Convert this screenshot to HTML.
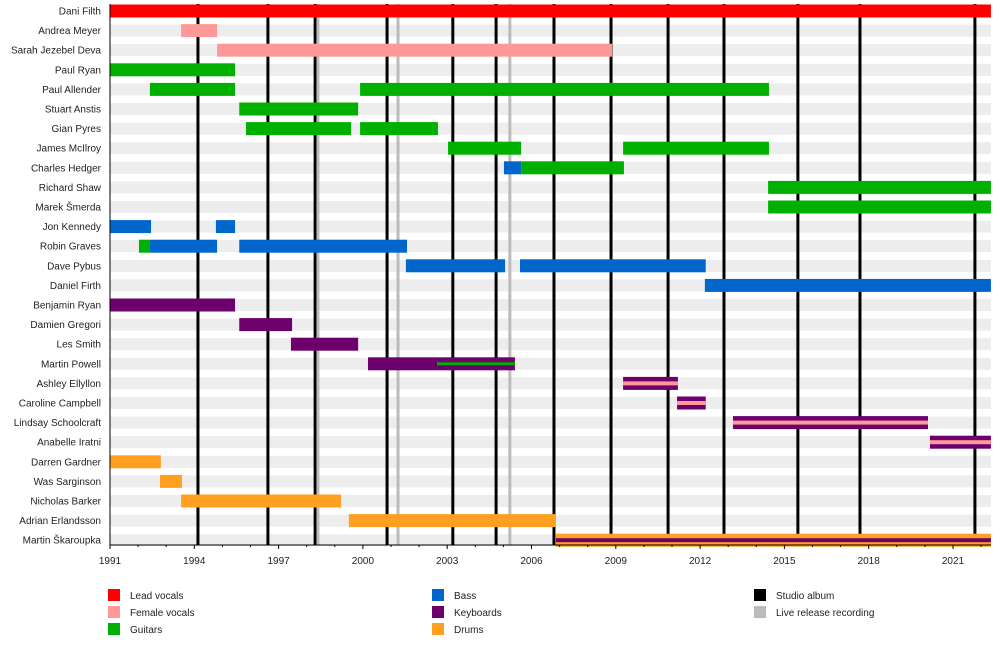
<!DOCTYPE html>
<html><head><meta charset="utf-8"><style>
body{margin:0;background:#fff;font-family:"Liberation Sans",sans-serif;}
svg text{font-family:"Liberation Sans",sans-serif;font-size:10px;fill:#222;}
</style></head><body>
<svg id="chart" width="1000" height="645" viewBox="0 0 1000 645" xmlns="http://www.w3.org/2000/svg">
<g id="stripes"></g><g id="lines"></g><g id="bars"></g><g id="labels"></g><g id="axis"></g><g id="legend"></g>
</svg>
<script>
const END = 2022.35;
const members = ["Dani Filth","Andrea Meyer","Sarah Jezebel Deva","Paul Ryan","Paul Allender","Stuart Anstis","Gian Pyres","James McIlroy","Charles Hedger","Richard Shaw","Marek Šmerda","Jon Kennedy","Robin Graves","Dave Pybus","Daniel Firth","Benjamin Ryan","Damien Gregori","Les Smith","Martin Powell","Ashley Ellyllon","Caroline Campbell","Lindsay Schoolcraft","Anabelle Iratni","Darren Gardner","Was Sarginson","Nicholas Barker","Adrian Erlandsson","Martin Škaroupka"];
// [memberIndex, start, end, role, stripeRole]
const periods = [
[0,1991,END,"lead",null],
[1,1993.53,1994.81,"female",null],
[2,1994.81,2008.87,"female",null],
[3,1991,1995.45,"guitar",null],
[4,1992.42,1995.45,"guitar",null],[4,1999.9,2014.45,"guitar",null],
[5,1995.6,1999.83,"guitar",null],
[6,1995.84,1999.58,"guitar",null],[6,1999.9,2002.67,"guitar",null],
[7,2003.03,2005.63,"guitar",null],[7,2009.26,2014.45,"guitar",null],
[8,2005.02,2005.63,"bass",null],[8,2005.63,2009.29,"guitar",null],
[9,2014.42,END,"guitar",null],
[10,2014.42,END,"guitar",null],
[11,1991,1992.46,"bass",null],[11,1994.77,1995.45,"bass",null],
[12,1992.03,1992.42,"guitar",null],[12,1992.42,1994.81,"bass",null],[12,1995.6,2001.57,"bass",null],
[13,2001.53,2005.06,"bass",null],[13,2005.59,2012.2,"bass",null],
[14,2012.17,END,"bass",null],
[15,1991,1995.45,"keys",null],
[16,1995.6,1997.48,"keys",null],
[17,1997.44,1999.83,"keys",null],
[18,2000.18,2002.64,"keys",null],[18,2002.64,2005.41,"keys","guitar"],
[19,2009.26,2011.21,"keys","female"],
[20,2011.18,2012.2,"keys","female"],
[21,2013.17,2020.11,"keys","female"],
[22,2020.18,END,"keys","female"],
[23,1991,1992.81,"drums",null],
[24,1992.78,1993.56,"drums",null],
[25,1993.53,1999.22,"drums",null],
[26,1999.5,2006.87,"drums",null],
[27,2006.87,END,"drums","keys"]
];
const studioAlbums = [1994.13,1996.62,1998.3,2000.86,2003.2,2004.74,2006.8,2008.83,2010.86,2012.85,2015.48,2017.69,2021.78];
const liveReleases = [1998.4,2001.25,2005.23];
const tickLabels = [1991,1994,1997,2000,2003,2006,2009,2012,2015,2018,2021];
const colors = {lead:"#ff0000",female:"#ff9999",guitar:"#00b000",bass:"#0066cc",keys:"#6e006e",drums:"#ffa020"};

const NS="http://www.w3.org/2000/svg";
const X0=110,PX=28.1,X1=991,Y0=11,DY=19.6,BH=13,AXY=545;
const xs=y=>X0+(y-1991)*PX;
const yc=i=>Y0+i*DY;
function mk(tag,attrs,parent){const e=document.createElementNS(NS,tag);for(const k in attrs)e.setAttribute(k,attrs[k]);parent.appendChild(e);return e;}
const gS=document.getElementById('stripes'),gL=document.getElementById('lines'),gB=document.getElementById('bars'),gT=document.getElementById('labels'),gA=document.getElementById('axis'),gG=document.getElementById('legend');

members.forEach((m,i)=>{
  const r=mk('rect',{x:X0,y:yc(i)-6,width:X1-X0,height:12,fill:'#ededed'},gS);
  
  
  const t=mk('text',{x:101,y:yc(i)+3.5,'text-anchor':'end'},gT);
  t.textContent=m;
  
  
});
studioAlbums.forEach(a=>{
  const l=mk('line',{x1:xs(a),x2:xs(a),y1:4,y2:AXY,stroke:'#000','stroke-width':3},gL);
  
  
});
liveReleases.forEach(a=>{
  const l=mk('line',{x1:xs(a),x2:xs(a),y1:4,y2:AXY,stroke:'#bbbbbb','stroke-width':3},gL);
  
  
});
periods.forEach(p=>{
  const [i,s,e,role,stripe]=p;
  const r=mk('rect',{x:xs(s),y:yc(i)-BH/2,width:xs(e)-xs(s),height:BH,fill:colors[role]},gB);
  
  
  if(stripe){
    const h=stripe==='guitar'?3:4;
    const r2=mk('rect',{x:xs(s),y:yc(i)-h/2,width:xs(e)-xs(s),height:h,fill:colors[stripe]},gB);
    
    
  }
});
const ax=mk('line',{x1:X0,x2:X1,y1:AXY,y2:AXY,stroke:'#000','stroke-width':1},gA);


mk('line',{x1:X0,x2:X0,y1:4,y2:AXY,stroke:'#000','stroke-width':1},gA);
for(let y=1991;y<=Math.floor(END);y++){
  const major=tickLabels.includes(y);
  const t=mk('line',{x1:xs(y),x2:xs(y),y1:AXY,y2:AXY+(major?4:2),stroke:'#000','stroke-width':1},gA);
  
  
}
tickLabels.forEach(y=>{
  const t=mk('text',{x:xs(y),y:AXY+19,'text-anchor':'middle'},gA);
  t.textContent=y;
  
  
});
const legendItems=[["Lead vocals",colors.lead,108,595],["Female vocals",colors.female,108,612],["Guitars",colors.guitar,108,629],["Bass",colors.bass,432,595],["Keyboards",colors.keys,432,612],["Drums",colors.drums,432,629],["Studio album","#000",754,595],["Live release recording","#bbbbbb",754,612]];
legendItems.forEach(([lab,c,x,y])=>{
  const g=mk('g',{},gG);
  
  
  mk('rect',{x:x,y:y-6,width:12,height:12,fill:c},g);
  const t=mk('text',{x:x+22,y:y+4},g);
  t.textContent=lab;
});
</script>
</body></html>
